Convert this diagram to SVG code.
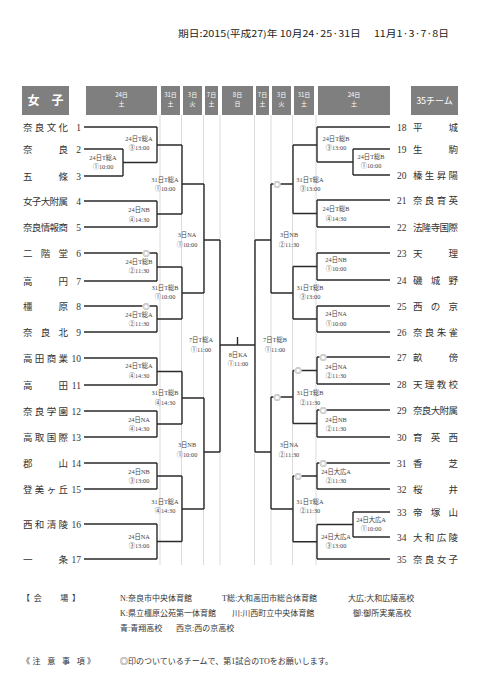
<svg xmlns="http://www.w3.org/2000/svg" width="482" height="680" viewBox="0 0 482 680">
<style>
.bg{fill:#fff}
.hd{fill:#7f7f7f}
.ht{fill:#fff;font-family:"Noto Sans CJK JP","Liberation Sans",sans-serif;font-size:6px;text-anchor:middle}
.gd{stroke:#d2d2d2;stroke-width:0.8;fill:none}
.ln{stroke:#2a2a2a;stroke-width:1.4;fill:none}
.tm{font-family:"Liberation Serif","Noto Sans CJK JP",serif;font-size:9.5px;fill:#333}
.nr{text-anchor:end}
.lb{font-family:"Liberation Serif","Noto Sans CJK JP",serif;font-size:6.3px;fill:#444;text-anchor:middle}
.mk{font-family:"Noto Sans CJK JP",sans-serif;font-size:7.2px;fill:#555;text-anchor:middle}
.ft{font-family:"Liberation Serif","Noto Sans CJK JP",serif;font-size:8px;fill:#333}
.tt{font-family:"Noto Sans CJK JP","Liberation Sans",sans-serif;font-size:9px;fill:#222}
</style>
<rect class="bg" x="0" y="0" width="482" height="680"/>
<text class="tt" x="178" y="37" textLength="271" lengthAdjust="spacingAndGlyphs">期日:2015(平成27)年 10月24·25·31日　 11月1·3·7·8日</text>

<g id="header">
<rect class="hd" x="22" y="86" width="47" height="29"/>
<text x="45.5" y="105" style="fill:#fff;font-family:'Noto Sans CJK JP',sans-serif;font-size:12px;font-weight:bold;text-anchor:middle">女　子</text>
<rect class="hd" x="86" y="86" width="71" height="29"/>
<text class="ht" x="121.5" y="97">24日</text><text class="ht" x="121.5" y="106">土</text>
<rect class="hd" x="161" y="86" width="19" height="29"/>
<text class="ht" x="170.5" y="97">31日</text><text class="ht" x="170.5" y="106">土</text>
<rect class="hd" x="183" y="86" width="19" height="29"/>
<text class="ht" x="192.5" y="97">3日</text><text class="ht" x="192.5" y="106">火</text>
<rect class="hd" x="205" y="86" width="13" height="29"/>
<text class="ht" x="211.5" y="97">7日</text><text class="ht" x="211.5" y="106">土</text>
<rect class="hd" x="222" y="86" width="31" height="29"/>
<text class="ht" x="237.5" y="97">8日</text><text class="ht" x="237.5" y="106">日</text>
<rect class="hd" x="256" y="86" width="13" height="29"/>
<text class="ht" x="262.5" y="97">7日</text><text class="ht" x="262.5" y="106">土</text>
<rect class="hd" x="272" y="86" width="19" height="29"/>
<text class="ht" x="281.5" y="97">3日</text><text class="ht" x="281.5" y="106">火</text>
<rect class="hd" x="294" y="86" width="20" height="29"/>
<text class="ht" x="304" y="97">31日</text><text class="ht" x="304" y="106">土</text>
<rect class="hd" x="318" y="86" width="72" height="29"/>
<text class="ht" x="354" y="97">24日</text><text class="ht" x="354" y="106">土</text>
<rect class="hd" x="411" y="86" width="47" height="29"/>
<text x="434.5" y="104" style="fill:#fff;font-family:'Noto Sans CJK JP',sans-serif;font-size:9px;text-anchor:middle">35チーム</text>
</g>

<g id="guides">
<path class="gd" d="M160,115V565M181.5,115V565M203.5,115V565M220,115V565M254.5,115V565M271,115V565M292.5,115V565M316,115V565"/>
</g>

<g id="connectors">
<path class="ln" d="M84,127H157M84,149H123M84,176H123M84,201H157M84,227H157M84,253H157M84,281H157M84,306H157M84,332H157M84,358H157M84,385H157M84,411H157M84,437H157M84,463H157M84,489H157M84,524H157M84,559H157"/>
<path class="ln" d="M123,149V176M123,162.5H157M157,127V162.5M157,145H182M157,201V227M157,214H182M182,145V214M182,184H204M157,253V281M157,267H182M157,306V332M157,319H182M182,267V319M182,293H204M204,184V293M204,240H220M157,358V385M157,371.5H182M157,411V437M157,424H182M182,371.5V424M182,398H204M157,463V489M157,476H182M157,524V559M157,541.5H182M182,476V541.5M182,509H204M204,398V509M204,452H220M220,240V452M220,345H255M237.5,337V345"/>
<path class="ln" d="M255,240V452M271,184V293M271,240H255M271,397V509M271,452H255M293,145V213.5M293,184H271M293,266.5V319M293,293H271M293,370.5V423.5M293,397H271M293,476V541.75M293,509H271M317,127V162M317,145H293M353,149V175M353,162H317M317,200V227M317,213.5H293M317,253V280M317,266.5H293M317,306V332M317,319H293M317,357V384M317,370.5H293M317,410V437M317,423.5H293M317,463V489M317,476H293M353,512V537M353,524.5H317M317,524.5V559M317,541.75H293"/>
<path class="ln" d="M317,127H390M353,149H390M353,175H390M317,200H390M317,227H390M317,253H390M317,280H390M317,306H390M317,332H390M317,357H390M317,384H390M317,410H390M317,437H390M317,463H390M317,489H390M353,512H390M353,537H390M317,559H390"/>
</g>

<g id="marks">
<circle cx="146" cy="253" r="3.7" fill="#fff"/><text class="mk" x="146" y="255.5">◎</text>
<circle cx="146" cy="306" r="3.7" fill="#fff"/><text class="mk" x="146" y="308.5">◎</text>
<circle cx="277" cy="184" r="3.7" fill="#fff"/><text class="mk" x="277" y="186.5">◎</text>
<circle cx="298" cy="370.5" r="3.7" fill="#fff"/><text class="mk" x="298" y="373">◎</text>
<circle cx="277" cy="397" r="3.7" fill="#fff"/><text class="mk" x="277" y="399.5">◎</text>
<circle cx="298" cy="476" r="3.7" fill="#fff"/><text class="mk" x="298" y="478.5">◎</text>
<circle cx="323" cy="357" r="3.7" fill="#fff"/><text class="mk" x="323" y="359.5">◎</text>
<circle cx="323" cy="410" r="3.7" fill="#fff"/><text class="mk" x="323" y="412.5">◎</text>
<circle cx="323" cy="463" r="3.7" fill="#fff"/><text class="mk" x="323" y="465.5">◎</text>
</g>

<g id="team1"><text class="tm" x="23" y="130.5" textLength="45" lengthAdjust="spacing">奈良文化</text><text class="tm nr" x="81" y="130.5">1</text></g>
<g id="team2"><text class="tm" x="23" y="152.5" textLength="45" lengthAdjust="spacing">奈良</text><text class="tm nr" x="81" y="152.5">2</text></g>
<g id="team3"><text class="tm" x="23" y="179.5" textLength="45" lengthAdjust="spacing">五條</text><text class="tm nr" x="81" y="179.5">3</text></g>
<g id="team4"><text class="tm" x="23" y="204.5" textLength="45" lengthAdjust="spacing">女子大附属</text><text class="tm nr" x="81" y="204.5">4</text></g>
<g id="team5"><text class="tm" x="23" y="230.5" textLength="45" lengthAdjust="spacing">奈良情報商</text><text class="tm nr" x="81" y="230.5">5</text></g>
<g id="team6"><text class="tm" x="23" y="256.5" textLength="45" lengthAdjust="spacing">二階堂</text><text class="tm nr" x="81" y="256.5">6</text></g>
<g id="team7"><text class="tm" x="23" y="284.5" textLength="45" lengthAdjust="spacing">高円</text><text class="tm nr" x="81" y="284.5">7</text></g>
<g id="team8"><text class="tm" x="23" y="309.5" textLength="45" lengthAdjust="spacing">橿原</text><text class="tm nr" x="81" y="309.5">8</text></g>
<g id="team9"><text class="tm" x="23" y="335.5" textLength="45" lengthAdjust="spacing">奈良北</text><text class="tm nr" x="81" y="335.5">9</text></g>
<g id="team10"><text class="tm" x="23" y="361.5" textLength="45" lengthAdjust="spacing">高田商業</text><text class="tm nr" x="81" y="361.5">10</text></g>
<g id="team11"><text class="tm" x="23" y="388.5" textLength="45" lengthAdjust="spacing">高田</text><text class="tm nr" x="81" y="388.5">11</text></g>
<g id="team12"><text class="tm" x="23" y="414.5" textLength="45" lengthAdjust="spacing">奈良学園</text><text class="tm nr" x="81" y="414.5">12</text></g>
<g id="team13"><text class="tm" x="23" y="440.5" textLength="45" lengthAdjust="spacing">高取国際</text><text class="tm nr" x="81" y="440.5">13</text></g>
<g id="team14"><text class="tm" x="23" y="466.5" textLength="45" lengthAdjust="spacing">郡山</text><text class="tm nr" x="81" y="466.5">14</text></g>
<g id="team15"><text class="tm" x="23" y="492.5" textLength="45" lengthAdjust="spacing">登美ヶ丘</text><text class="tm nr" x="81" y="492.5">15</text></g>
<g id="team16"><text class="tm" x="23" y="527.5" textLength="45" lengthAdjust="spacing">西和清陵</text><text class="tm nr" x="81" y="527.5">16</text></g>
<g id="team17"><text class="tm" x="23" y="562.5" textLength="45" lengthAdjust="spacing">一条</text><text class="tm nr" x="81" y="562.5">17</text></g>

<g id="team18"><text class="tm" x="397" y="130.5">18</text><text class="tm" x="413" y="130.5" textLength="45" lengthAdjust="spacing">平城</text></g>
<g id="team19"><text class="tm" x="397" y="152.5">19</text><text class="tm" x="413" y="152.5" textLength="45" lengthAdjust="spacing">生駒</text></g>
<g id="team20"><text class="tm" x="397" y="178.5">20</text><text class="tm" x="413" y="178.5" textLength="45" lengthAdjust="spacing">榛生昇陽</text></g>
<g id="team21"><text class="tm" x="397" y="203.5">21</text><text class="tm" x="413" y="203.5" textLength="45" lengthAdjust="spacing">奈良育英</text></g>
<g id="team22"><text class="tm" x="397" y="230.5">22</text><text class="tm" x="413" y="230.5" textLength="45" lengthAdjust="spacing">法隆寺国際</text></g>
<g id="team23"><text class="tm" x="397" y="256.5">23</text><text class="tm" x="413" y="256.5" textLength="45" lengthAdjust="spacing">天理</text></g>
<g id="team24"><text class="tm" x="397" y="283.5">24</text><text class="tm" x="413" y="283.5" textLength="45" lengthAdjust="spacing">磯城野</text></g>
<g id="team25"><text class="tm" x="397" y="309.5">25</text><text class="tm" x="413" y="309.5" textLength="45" lengthAdjust="spacing">西の京</text></g>
<g id="team26"><text class="tm" x="397" y="335.5">26</text><text class="tm" x="413" y="335.5" textLength="45" lengthAdjust="spacing">奈良朱雀</text></g>
<g id="team27"><text class="tm" x="397" y="360.5">27</text><text class="tm" x="413" y="360.5" textLength="45" lengthAdjust="spacing">畝傍</text></g>
<g id="team28"><text class="tm" x="397" y="387.5">28</text><text class="tm" x="413" y="387.5" textLength="45" lengthAdjust="spacing">天理教校</text></g>
<g id="team29"><text class="tm" x="397" y="413.5">29</text><text class="tm" x="413" y="413.5" textLength="45" lengthAdjust="spacing">奈良大附属</text></g>
<g id="team30"><text class="tm" x="397" y="440.5">30</text><text class="tm" x="413" y="440.5" textLength="45" lengthAdjust="spacing">育英西</text></g>
<g id="team31"><text class="tm" x="397" y="466.5">31</text><text class="tm" x="413" y="466.5" textLength="45" lengthAdjust="spacing">香芝</text></g>
<g id="team32"><text class="tm" x="397" y="492.5">32</text><text class="tm" x="413" y="492.5" textLength="45" lengthAdjust="spacing">桜井</text></g>
<g id="team33"><text class="tm" x="397" y="515.5">33</text><text class="tm" x="413" y="515.5" textLength="45" lengthAdjust="spacing">帝塚山</text></g>
<g id="team34"><text class="tm" x="397" y="540.5">34</text><text class="tm" x="413" y="540.5" textLength="45" lengthAdjust="spacing">大和広陵</text></g>
<g id="team35"><text class="tm" x="397" y="562.5">35</text><text class="tm" x="413" y="562.5" textLength="45" lengthAdjust="spacing">奈良女子</text></g>

<g id="match-labels">
<text class="lb" x="103" y="160">24日T総A</text><text class="lb" x="103" y="169">①10:00</text>
<text class="lb" x="139" y="141">24日T総A</text><text class="lb" x="139" y="150">③13:00</text>
<text class="lb" x="139" y="212">24日NB</text><text class="lb" x="139" y="222">④14:30</text>
<text class="lb" x="139" y="264">24日T総B</text><text class="lb" x="139" y="273">②11:30</text>
<text class="lb" x="139" y="317">24日T総A</text><text class="lb" x="139" y="326">②11:30</text>
<text class="lb" x="139" y="368">24日T総A</text><text class="lb" x="139" y="378">④14:30</text>
<text class="lb" x="139" y="422">24日NA</text><text class="lb" x="139" y="431">④14:30</text>
<text class="lb" x="139" y="474">24日NB</text><text class="lb" x="139" y="483">③13:00</text>
<text class="lb" x="139" y="539">24日NA</text><text class="lb" x="139" y="548">③13:00</text>
<text class="lb" x="165" y="182">31日T総A</text><text class="lb" x="165" y="191">①10:00</text>
<text class="lb" x="165" y="290">31日T総B</text><text class="lb" x="165" y="299">①10:00</text>
<text class="lb" x="165" y="395">31日T総B</text><text class="lb" x="165" y="405">④14:30</text>
<text class="lb" x="165" y="504">31日T総A</text><text class="lb" x="165" y="513">④14:30</text>
<text class="lb" x="187" y="237">3日NA</text><text class="lb" x="187" y="247">①10:00</text>
<text class="lb" x="187" y="447">3日NB</text><text class="lb" x="187" y="457">①10:00</text>
<text class="lb" x="201" y="342">7日T総A</text><text class="lb" x="201" y="352">①11:00</text>
<text class="lb" x="238" y="357">8日KA</text><text class="lb" x="238" y="366">①11:00</text>
<text class="lb" x="275" y="342">7日T総B</text><text class="lb" x="275" y="352">①11:00</text>
<text class="lb" x="289" y="237">3日NB</text><text class="lb" x="289" y="247">②11:30</text>
<text class="lb" x="289" y="447">3日NA</text><text class="lb" x="289" y="457">②11:30</text>
<text class="lb" x="310" y="182">31日T総A</text><text class="lb" x="310" y="191">③13:00</text>
<text class="lb" x="310" y="290">31日T総B</text><text class="lb" x="310" y="299">③13:00</text>
<text class="lb" x="310" y="395">31日T総B</text><text class="lb" x="310" y="405">②11:30</text>
<text class="lb" x="310" y="504">31日T総A</text><text class="lb" x="310" y="513">②11:30</text>
<text class="lb" x="336" y="141">24日T総B</text><text class="lb" x="336" y="150">③13:00</text>
<text class="lb" x="371" y="159">24日T総B</text><text class="lb" x="371" y="168">①10:00</text>
<text class="lb" x="336" y="211">24日T総B</text><text class="lb" x="336" y="221">④14:30</text>
<text class="lb" x="336" y="262">24日NB</text><text class="lb" x="336" y="271">①10:00</text>
<text class="lb" x="336" y="316">24日NA</text><text class="lb" x="336" y="326">①10:00</text>
<text class="lb" x="336" y="369">24日NA</text><text class="lb" x="336" y="378">②11:30</text>
<text class="lb" x="336" y="422">24日NB</text><text class="lb" x="336" y="431">②11:30</text>
<text class="lb" x="336" y="474">24日大広A</text><text class="lb" x="336" y="483">②11:30</text>
<text class="lb" x="371" y="522">24日大広A</text><text class="lb" x="371" y="531">①10:00</text>
<text class="lb" x="336" y="539">24日大広A</text><text class="lb" x="336" y="548">③13:00</text>
</g>

<g id="footer">
<text class="ft" x="22" y="601" textLength="58" lengthAdjust="spacing">【 会　　場 】</text>
<text class="ft" x="120" y="601">N:奈良市中央体育館</text>
<text class="ft" x="222" y="601">T総:大和高田市総合体育館</text>
<text class="ft" x="348" y="601">大広:大和広陵高校</text>
<text class="ft" x="120" y="616">K:県立橿原公苑第一体育館</text>
<text class="ft" x="232" y="616">川:川西町立中央体育館</text>
<text class="ft" x="353" y="616">御:御所実業高校</text>
<text class="ft" x="120" y="631">青:青翔高校</text>
<text class="ft" x="176" y="631">西京:西の京高校</text>
<text class="ft" x="22" y="664" textLength="73" lengthAdjust="spacing">《注 意 事 項》</text>
<text class="ft" x="120" y="664">◎印のついているチームで、第1試合のTOをお願いします。</text>
</g>
</svg>
